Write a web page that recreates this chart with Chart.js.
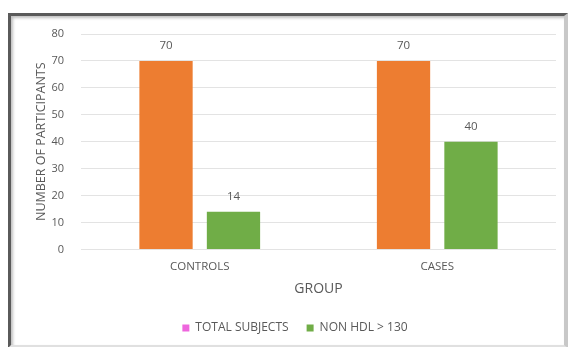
<!DOCTYPE html>
<html><head><meta charset="utf-8">
<script src="https://cdn.jsdelivr.net/npm/chart.js@4"></script>
<style>
html,body{margin:0;padding:0;background:#fff;}
#wrap{position:relative;width:569px;height:347px;overflow:hidden;background:#fff;}
canvas{position:absolute;left:0;top:0;}
#frame{position:absolute;left:8px;top:13px;width:553px;height:329px;border-top:3px solid #5a5a5a;border-left:3px solid #5a5a5a;border-right:4px solid #c8c8c8;border-bottom:3px solid #e0e0e0;pointer-events:none;box-shadow:inset 2px 2px 3px rgba(0,0,0,0.25);}
</style></head>
<body><div id="wrap"><canvas id="c" width="569" height="347"></canvas><div id="frame"></div></div>
<script>
const categories = ["CONTROLS", "CASES"];
const seriesNames = ["TOTAL SUBJECTS", "NON HDL > 130"];
const totalSubjects = [70, 70];
const nonHdl130 = [14, 40];
const yTicks = [0, 10, 20, 30, 40, 50, 60, 70, 80];

const textColor = "#595959";
const barColors = ["#ED7D31", "#70AD47"];
const legendColors = ["#EE66DD", "#70AD47"];
const fontFam = "'Open Sans', 'Liberation Sans', sans-serif";

const valueLabels = {
  id: "valueLabels",
  afterDatasetsDraw(chart) {
    const ctx = chart.ctx;
    ctx.save();
    ctx.font = "11.5px " + fontFam;
    ctx.fillStyle = textColor;
    ctx.textAlign = "center";
    ctx.textBaseline = "middle";
    chart.data.datasets.forEach((ds, i) => {
      chart.getDatasetMeta(i).data.forEach((el, j) => {
        ctx.fillText(String(ds.data[j]), el.x, el.y - 15);
      });
    });
    ctx.restore();
  }
};

new Chart(document.getElementById("c"), {
  type: "bar",
  data: {
    labels: categories,
    datasets: [
      { label: seriesNames[0], data: totalSubjects, backgroundColor: barColors[0] },
      { label: seriesNames[1], data: nonHdl130, backgroundColor: barColors[1] }
    ]
  },
  options: {
    responsive: false,
    animation: false,
    devicePixelRatio: 1,
    layout: { padding: { left: 34, right: 13, top: 34, bottom: 3 } },
    categoryPercentage: 0.568,
    barPercentage: 0.79,
    plugins: {
      tooltip: { enabled: false },
      legend: {
        position: "bottom",
        labels: {
          color: textColor,
          font: { size: 12, family: fontFam },
          boxWidth: 7, boxHeight: 7, padding: 18,
          generateLabels(chart) {
            return chart.data.datasets.map((ds, i) => ({
              text: ds.label, fillStyle: legendColors[i], strokeStyle: legendColors[i],
              lineWidth: 0, datasetIndex: i, fontColor: textColor
            }));
          }
        }
      }
    },
    scales: {
      x: {
        grid: { display: false, drawTicks: false },
        border: { display: false },
        ticks: { color: textColor, font: { size: 11.5, family: fontFam }, padding: 10 },
        title: { display: true, text: "GROUP", color: textColor, font: { size: 14, family: fontFam }, padding: { top: -3, bottom: 7 } }
      },
      y: {
        min: 0, max: 80,
        afterBuildTicks(s) { s.ticks = yTicks.map(v => ({ value: v })); },
        afterFit(s) { s.width = 47; },
        grid: { color: "#e3e3e3", lineWidth: 1, drawTicks: false },
        border: { display: false },
        ticks: { color: textColor, font: { size: 11, family: fontFam }, padding: 17 },
        title: { display: true, text: "NUMBER OF PARTICIPANTS", color: textColor, font: { size: 12.5, family: fontFam }, padding: { top: 0, bottom: 0 } }
      }
    }
  },
  plugins: [valueLabels]
});
</script>
</body></html>
